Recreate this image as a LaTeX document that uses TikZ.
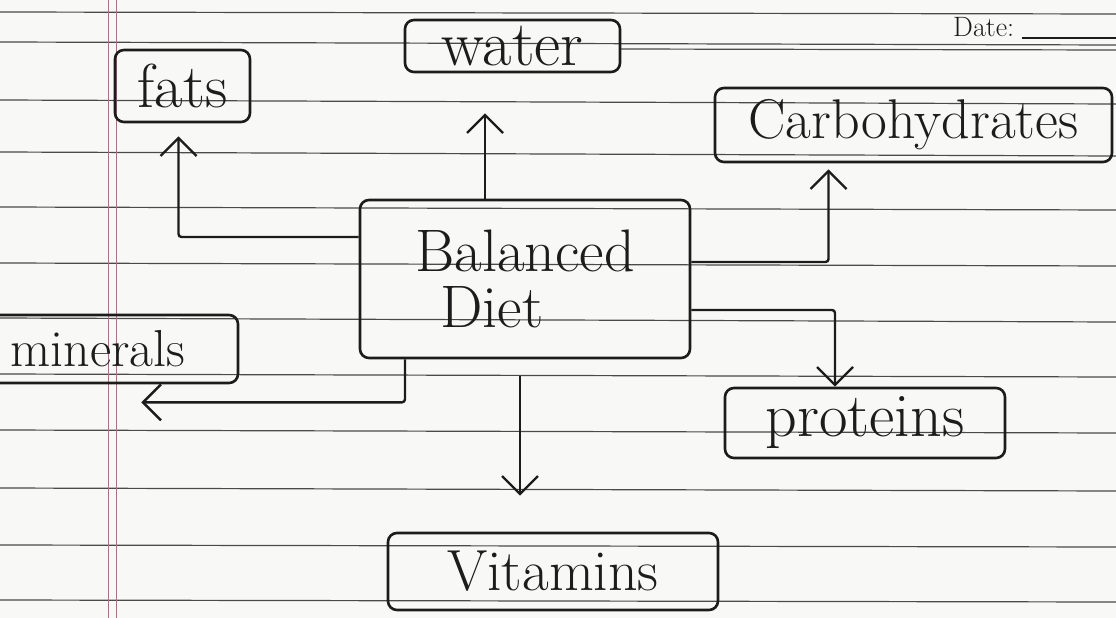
\documentclass[tikz,border=0pt]{standalone}
\usetikzlibrary{arrows.meta,calc}
\definecolor{ink}{HTML}{1C1C1C}
\definecolor{ruleline}{HTML}{4A4A4A}
\definecolor{marginred}{HTML}{C8608A}
\definecolor{paper}{HTML}{F8F8F6}
\begin{document}
\begin{tikzpicture}[x=1pt,y=-1pt,
  box/.style={draw=ink,line width=2.6pt,rounded corners=9pt,inner sep=0pt,text=ink,align=center},
  arr/.style={draw=ink,line width=2.4pt,rounded corners=3pt,-{Straight Barb[length=18pt,width=36pt]}},
  paperline/.style={draw=ruleline,line width=1.2pt},
  marginline/.style={draw=marginred,line width=0.9pt},
  hand/.style={font=\fontsize{#1}{#1}\selectfont}]
\useasboundingbox (0,0) rectangle (1116,618);
\clip (0,0) rectangle (1116,618);
\fill[paper] (0,0) rectangle (1116,618);
% ruled paper
\foreach \y/\d in {12/2,42/3,100/4,152/4,207/3,263/3,318/4,374/3,430/3,488/3,545/2,600/2}{
  \draw[paperline] (0,\y) -- (1116,\y+\d);
}
\draw[paperline] (620,49) -- (1116,50);
\draw[marginline] (108,0) -- (108,618);
\draw[marginline] (116,0) -- (116,618);
% date
\node (date) [hand=28, text=ink, anchor=base west, inner sep=0pt] at (953,37) {Date:};
\coordinate (dateend) at (1116,38);
\draw[ink,line width=1.4pt] ([xshift=8pt,yshift=-1pt]date.base east) -- (dateend);
% boxes
\node (fats)  [box, minimum width=135pt, minimum height=72pt, hand=62] at (182.5,86) {fats};
\node (water) [box, minimum width=215pt, minimum height=52pt, hand=64] at (512.5,46) {water};
\node (carb)  [box, minimum width=397pt, minimum height=74pt, hand=56] at (913.5,125) {Carbohydrates};
\node (bd)    [box, minimum width=330pt, minimum height=158pt, hand=60, align=left] at (525,279) {Balanced\\[-4pt]\hspace*{25pt}Diet};
\node (min)   [box, minimum width=250pt, minimum height=68pt, hand=52] at (113,349) {\hspace*{-30pt}minerals};
\node (prot)  [box, minimum width=280pt, minimum height=70pt, hand=62] at (865,423) {proteins};
\node (vit)   [box, minimum width=330pt, minimum height=77pt, hand=58] at (553,571.5) {Vitamins};
% connectors
\draw[arr, shorten >=13pt] ([yshift=42pt]bd.west) -| ([xshift=-4pt]fats.south);
\draw[arr, shorten >=40pt] ([xshift=-40pt]bd.north) -- ([xshift=-40pt]bd.north |- water.south);
\draw[arr, shorten >=6pt] ([yshift=17pt]bd.east) -| ([xshift=-85pt]carb.south);
\draw[arr] ([yshift=-31pt]bd.east) -| ([xshift=-30pt]prot.north);
\draw[arr, shorten <=17pt, shorten >=36pt] ([xshift=-5pt]bd.south) -- ([xshift=-5pt]bd.south |- vit.north);
\draw[arr] ([xshift=-120pt]bd.south) |- ([xshift=-98pt,yshift=-18pt]min.south east);
\end{tikzpicture}
\end{document}
